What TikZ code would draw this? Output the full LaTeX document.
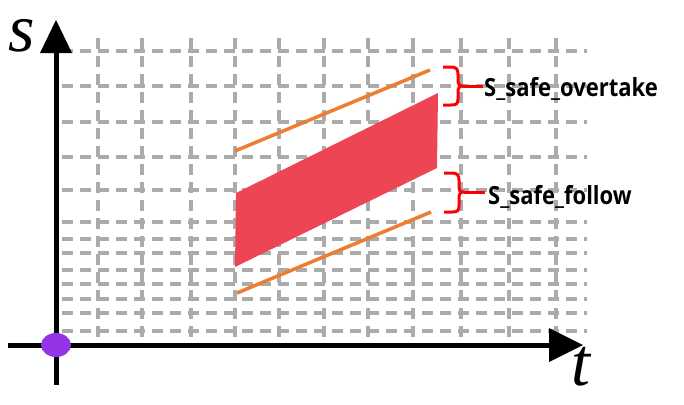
\documentclass[tikz,border=0pt]{standalone}
\usepackage{fontspec}
\setmainfont{Liberation Serif}
\newfontfamily\labelfont{Open Sans}
\definecolor{gridgray}{HTML}{ABABAB}
\definecolor{lineorange}{HTML}{ED7D31}
\definecolor{zonered}{HTML}{EE4555}
\definecolor{bracered}{HTML}{FF0000}
\definecolor{dotpurple}{HTML}{9334E6}
\tikzset{
  gridline/.style={draw=gridgray, line width=4pt, dash pattern=on 11pt off 7pt},
  axisline/.style={draw=black, line width=5pt},
  arrowhead/.style={fill=black, draw=none},
  boundline/.style={draw=lineorange, line width=3.5pt},
  bracepath/.style={draw=bracered, line width=3pt, line join=round},
  axislabel/.style={inner sep=0pt, anchor=base, font=\fontsize{68}{70}\selectfont\itshape},
  zonelabel/.style={inner sep=0pt, anchor=base west, font=\labelfont\bfseries\fontsize{25}{30}\selectfont}
}
\begin{document}
\begin{tikzpicture}[x=1pt, y=-1pt]
\useasboundingbox (0,0) rectangle (684,404);
\fill[white] (0,0) rectangle (684,404);
% grid
\foreach \gx in {98,142,191,235,279,324,368,413,461,509,556}
  \draw[gridline] (\gx,38) -- (\gx,343);
\foreach \gy in {51,86,122,157,190,222,239,253,270,284,299,313,331}
  \draw[gridline] (62,\gy) -- (587,\gy);
% zone
\fill[zonered] (236,193) -- (438,93) -- (437,168) -- (235,267) -- cycle;
% orange bounds
\draw[boundline] (235,151) -- (430,70);
\draw[boundline] (237,293) -- (431,212);
% axes
\draw[axisline] (56,385) -- (56,50);
\draw[axisline] (8,345) -- (552,345);
\fill[arrowhead] (56,20) -- (72,53) -- (40,53) -- cycle;
\fill[arrowhead] (583,345) -- (549,328) -- (549,362) -- cycle;
\fill[dotpurple] (56,345) ellipse [x radius=15, y radius=12];
\node[axislabel] (slab) at (21.5,52) {\smash{s}};
\node[axislabel] (tlab) at (581,385) {\smash{t}};
% braces
\draw[bracepath] (443,67) -- (451,67) .. controls (456,67) and (458,69) .. (458,74)
  -- (458,80) .. controls (458,84) and (459,86) .. (463,86)
  .. controls (459,86) and (458,88) .. (458,92)
  -- (458,99) .. controls (458,104) and (456,105) .. (451,105) -- (443,105);
\draw[bracepath] (463,86) -- (483,86);
\draw[bracepath] (444,173) -- (452,173) .. controls (457,173) and (459,175) .. (459,180)
  -- (459,186) .. controls (459,190) and (460,192) .. (464,192)
  .. controls (460,192) and (459,194) .. (459,198)
  -- (459,206) .. controls (459,211) and (457,212) .. (452,212) -- (444,212);
\draw[bracepath] (464,192) -- (485,192);
\node[zonelabel] (over) at (484,96) {\scalebox{0.88}[1]{S\_safe\_overtake}};
\node[zonelabel] (follow) at (488,204) {\scalebox{0.88}[1]{S\_safe\_follow}};
\end{tikzpicture}
\end{document}
